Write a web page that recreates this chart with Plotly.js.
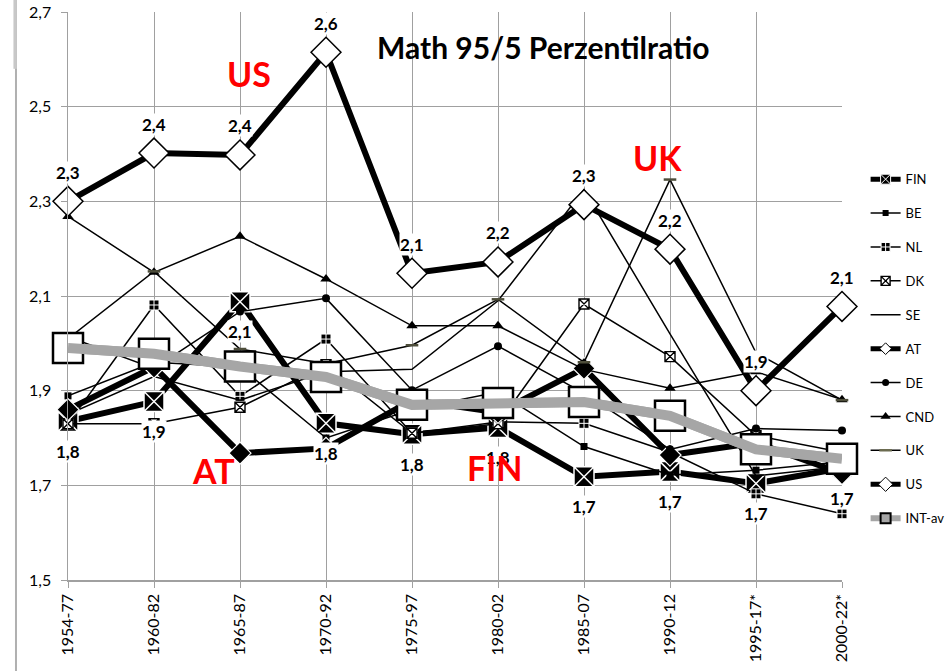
<!DOCTYPE html>
<html>
<head>
<meta charset="utf-8">
<script src="https://cdn.plot.ly/plotly-3.0.1.min.js"></script>
<style>
html,body{margin:0;padding:0;background:#fff;}
#chart{width:952px;height:671px;}
</style>
</head>
<body>
<div id="chart"></div>
<script>
// ---- data ----
var categories = ['1954-77','1960-82','1965-87','1970-92','1975-97','1980-02','1985-07','1990-12','1995-17*','2000-22*'];
var FIN = [1.835, 1.877, 2.088, 1.831, 1.808, 1.822, 1.718, 1.729, 1.704, 1.736];
var BE  = [1.889, 1.960, 1.950, 1.800, 1.860, 1.897, 1.782, 1.722, 1.732, 1.750];
var NL  = [1.830, 2.081, 1.888, 2.009, 1.810, 1.834, 1.831, 1.770, 1.682, 1.640];
var DK  = [1.830, 1.830, 1.865, 1.955, 1.810, 1.830, 2.083, 1.972, 1.805, 1.770];
var SE  = [1.850, 1.930, 1.880, 1.940, 1.945, 2.090, 2.325, 2.020, 1.720, 1.740];
var AT  = [1.860, 1.950, 1.768, 1.778, 1.880, 1.854, 1.947, 1.764, 1.790, 1.725];
var DE  = [2.014, 1.947, 2.067, 2.095, 1.901, 1.994, 1.895, 1.776, 1.820, 1.816];
var CND = [2.268, 2.150, 2.226, 2.136, 2.037, 2.037, 1.945, 1.905, 1.940, 1.881];
var UK  = [2.010, 2.152, 1.988, 1.957, 1.996, 2.093, 1.960, 2.346, 1.980, 1.880];
var US  = [2.300, 2.402, 2.398, 2.615, 2.148, 2.172, 2.293, 2.199, 1.900, 2.078];
var INTAV = [1.990, 1.978, 1.951, 1.929, 1.870, 1.874, 1.876, 1.847, 1.776, 1.756];
var seriesNames = ['FIN','BE','NL','DK','SE','AT','DE','CND','UK','US','INT-av'];
var yTicks = [1.5, 1.7, 1.9, 2.1, 2.3, 2.5, 2.7];
var titleText = 'Math 95/5 Perzentilratio';
var countryTags = [
  {text:'US',  x:2.10, y:2.571},
  {text:'AT',  x:1.69, y:1.732},
  {text:'FIN', x:4.96, y:1.737},
  {text:'UK',  x:6.86, y:2.392}
];

var FONT = 'Lato, "Open Sans", sans-serif';
function lbl(v){ return v.toFixed(1).replace('.', ','); }

var STY = {
  'FIN': {line:{color:'#000', width:6}, mk:{symbol:'square-x', size:20, color:'#000', line:{color:'#fff', width:1.5}},
          lg:{symbol:'square-x', size:10, color:'#000', line:{color:'#fff', width:1}}, lgw:5},
  'BE':  {line:{color:'#000', width:1.5}, mk:{symbol:'square', size:7, color:'#000', line:{width:0}},
          lg:{symbol:'square', size:6, color:'#000', line:{width:0}}, lgw:1.5},
  'NL':  {line:{color:'#000', width:1.5}, mk:{symbol:'square-cross', size:10, color:'#000', line:{color:'#fff', width:1}},
          lg:{symbol:'square-cross', size:9, color:'#000', line:{color:'#fff', width:1}}, lgw:1.5},
  'DK':  {line:{color:'#000', width:1.5}, mk:{symbol:'square-x', size:10, color:'#fff', line:{color:'#000', width:1.4}},
          lg:{symbol:'square-x', size:9, color:'#fff', line:{color:'#000', width:1.4}}, lgw:1.5},
  'SE':  {line:{color:'#000', width:1.5}, mk:null, lg:null, lgw:1.5},
  'AT':  {line:{color:'#000', width:6}, mk:{symbol:'diamond', size:17, color:'#000', line:{color:'#fff', width:1.2}},
          lg:{symbol:'diamond', size:9, color:'#fff', line:{color:'#000', width:1}}, lgw:5},
  'DE':  {line:{color:'#000', width:1.5}, mk:{symbol:'circle', size:8, color:'#000', line:{width:0}},
          lg:{symbol:'circle', size:7, color:'#000', line:{width:0}}, lgw:1.5},
  'CND': {line:{color:'#000', width:1.5}, mk:{symbol:'triangle-up', size:10, color:'#000', line:{width:0}},
          lg:{symbol:'triangle-up', size:9, color:'#000', line:{width:0}}, lgw:1.5},
  'UK':  {line:{color:'#000', width:1.5}, mk:{symbol:'line-ew', size:9, color:'#4d4d3a', line:{color:'#4d4d3a', width:2.5}},
          lg:{symbol:'line-ew', size:9, color:'#6b6b50', line:{color:'#6b6b50', width:2.5}}, lgw:1.5},
  'US':  {line:{color:'#000', width:6}, mk:{symbol:'diamond', size:23, color:'#fff', line:{color:'#000', width:1.5}},
          lg:{symbol:'diamond', size:11, color:'#fff', line:{color:'#000', width:1}}, lgw:5},
  'INT-av': {line:{color:'#a6a6a6', width:10}, mk:{symbol:'square', size:30, color:'#fff', line:{color:'#000', width:2.5}},
          lg:{symbol:'square', size:10, color:'#a6a6a6', line:{color:'#000', width:2}}, lgw:6}
};
var seriesData = [FIN, BE, NL, DK, SE, AT, DE, CND, UK, US, INTAV];

var traces = [];
seriesNames.forEach(function(n, k){
  var s = STY[n];
  var t = {type:'scatter', name:n, x:categories, y:seriesData[k], showlegend:false, cliponaxis:false,
    mode: s.mk ? 'lines+markers' : 'lines', line:s.line};
  if (s.mk) t.marker = s.mk;
  traces.push(t);
});
// grey average line on top of everything (as in the reference)
traces.push({type:'scatter', name:'INT-av', x:categories, y:INTAV, showlegend:false, mode:'lines',
  hoverinfo:'skip', line:{color:'#a6a6a6', width:10}});
// legend entries (no data drawn)
seriesNames.forEach(function(n){
  var s = STY[n];
  var t = {type:'scatter', name:n, x:[categories[0]], y:[null], legendgroup:n, showlegend:true,
    mode: s.lg ? 'lines+markers' : 'lines', line:{color:s.line.color, width:s.lgw}};
  if (s.lg) t.marker = s.lg;
  traces.push(t);
});

var annotations = [];
US.forEach(function(v,i){
  annotations.push({x:categories[i], y:v, xref:'x', yref:'y', text:lbl(v), showarrow:false,
    yshift:29, bgcolor:'#fff', borderpad:0,
    font:{family:FONT, size:17, color:'#000', weight:'bold'}});
});
FIN.forEach(function(v,i){
  annotations.push({x:categories[i], y:v, xref:'x', yref:'y', text:lbl(v), showarrow:false,
    yshift:-30, bgcolor:'#fff', borderpad:0,
    font:{family:FONT, size:17, color:'#000', weight:'bold'}});
});
countryTags.forEach(function(c){
  annotations.push({x:c.x, y:c.y, xref:'x', yref:'y', text:c.text, showarrow:false,
    font:{family:FONT, size:34, color:'#ff0000', weight:'bold'}});
});
annotations.push({x:0.6137, y:0.9736, xref:'paper', yref:'paper', text:titleText, showarrow:false,
  font:{family:FONT, size:30, color:'#000', weight:'bold'}});

var layout = {
  width:952, height:671,
  margin:{l:68, r:110, t:12, b:91, pad:0, autoexpand:false},
  paper_bgcolor:'#fff', plot_bgcolor:'#fff',
  separators:', ',
  font:{family:FONT, color:'#000'},
  showlegend:true,
  legend:{x:1.0305, y:0.732, xanchor:'left', yanchor:'top', bgcolor:'rgba(0,0,0,0)',
    font:{family:FONT, size:13, color:'#000'}, tracegroupgap:14, traceorder:'grouped'},
  xaxis:{type:'category', range:[0, 9], showgrid:true, gridcolor:'#a0a0a0', gridwidth:1,
    showline:true, linecolor:'#a0a0a0', linewidth:1.5, automargin:false,
    ticks:'outside', ticklen:6, tickcolor:'#a0a0a0', tickangle:-90,
    tickfont:{family:FONT, size:16, color:'#000'}, fixedrange:true},
  yaxis:{range:[1.5, 2.7], tickvals:yTicks, tickformat:'.1f', showgrid:true, gridcolor:'#a0a0a0', gridwidth:1,
    showline:true, linecolor:'#a0a0a0', linewidth:1.5, zeroline:false, automargin:false,
    ticks:'outside', ticklen:6, tickcolor:'#a0a0a0', ticklabelstandoff:6,
    tickfont:{family:FONT, size:16, color:'#000'}, fixedrange:true},
  annotations:annotations,
  shapes:[
    {type:'line', xref:'paper', yref:'paper', x0:-0.0672, x1:-0.0672, y0:-0.17, y1:1.03,
     line:{color:'#b0b0b0', width:2}},
    {type:'rect', xref:'paper', yref:'paper', x0:-0.0705, x1:-0.0660, y0:0.90, y1:1.03,
     fillcolor:'#c8c8c8', line:{width:0}}
  ]
};

Plotly.newPlot('chart', traces, layout, {displayModeBar:false, staticPlot:true});
</script>
</body>
</html>
